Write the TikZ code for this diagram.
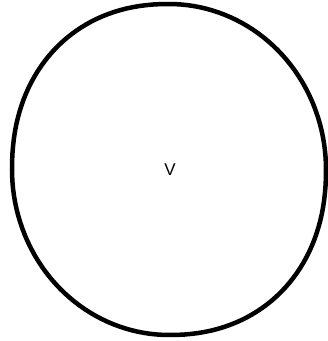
\documentclass[tikz,border=0pt]{standalone}
\usepackage{fontspec}
\setmainfont{Liberation Sans}
\usepackage{tikz}

\tikzset{ring/.style={line width=4.5pt, line join=round}}

\begin{document}
\begin{tikzpicture}[x=1pt,y=1pt]
\useasboundingbox (0,0) rectangle (328,341);
% outline: round at top right and bottom left, a bit squarer elsewhere
\draw[ring] plot[domain=0:90, samples=40] ({169+157*cos(\x)},{171.5+165.5*sin(\x)})
  -- plot[domain=90:180, samples=40] ({169-157*pow(max(-cos(\x),0.0001),0.92)},{171.5+165.5*pow(max(sin(\x),0.0001),0.92)})
  -- plot[domain=180:270, samples=40] ({169+157*cos(\x)},{171.5+165.5*sin(\x)})
  -- plot[domain=270:360, samples=40] ({169+157*pow(max(cos(\x),0.0001),0.92)},{171.5-165.5*pow(max(-sin(\x),0.0001),0.92)})
  -- cycle;
\node[font=\fontsize{17}{20}\selectfont] (v) at (170,171.3) {V};
\end{tikzpicture}
\end{document}
